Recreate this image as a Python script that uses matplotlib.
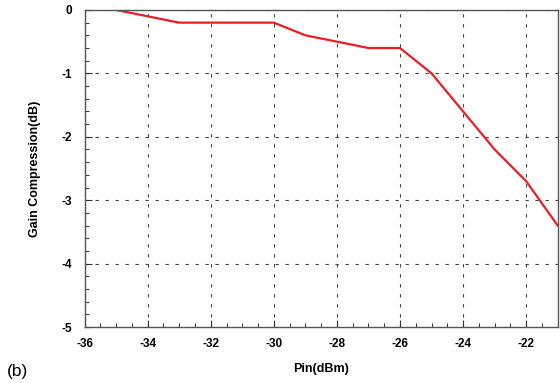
import matplotlib
matplotlib.use("Agg")
import matplotlib.pyplot as plt
from matplotlib.ticker import MultipleLocator

plt.rcParams["font.family"] = ["Liberation Sans", "DejaVu Sans"]

# Pin (dBm) vs gain compression (dB)
pin_dbm = [-35, -33, -32, -31, -30, -29, -28, -27, -26, -25, -24, -23, -22, -21]
gain_comp_db = [0.0, -0.2, -0.2, -0.2, -0.2, -0.4, -0.5, -0.6, -0.6, -1.0, -1.6, -2.2, -2.7, -3.4]

x_ticks = [-36, -34, -32, -30, -28, -26, -24, -22]
y_ticks = [0, -1, -2, -3, -4, -5]

fig = plt.figure(figsize=(5.6, 3.83), dpi=100)
ax = fig.add_axes([0.151, 0.146, 0.845, 0.828])

ax.plot(pin_dbm, gain_comp_db, color="#ee1c24", lw=1.6)

ax.set_xlim(-36, -21)
ax.set_ylim(-5, 0)
ax.set_xticks(x_ticks)
ax.set_yticks(y_ticks)
ax.set_xticklabels([str(v) for v in x_ticks], fontweight="bold", fontsize=8.5)
ax.set_yticklabels([str(v) for v in y_ticks], fontweight="bold", fontsize=8.5)
ax.xaxis.set_minor_locator(MultipleLocator(0.5))
ax.yaxis.set_minor_locator(MultipleLocator(0.2))
ax.tick_params(which="both", direction="in", top=False, right=False, color="#333333")
ax.tick_params(which="major", length=5, width=0.8)
ax.tick_params(axis="x", which="major", pad=8)
ax.tick_params(axis="y", which="major", pad=9)
ax.tick_params(which="minor", length=3, width=0.7)

ax.grid(True, which="major", color="#444444", linestyle=(0, (3, 6)), lw=0.8)

for s in ax.spines.values():
    s.set_color("#555555")
    s.set_linewidth(1.0)

ax.set_xlabel("Pin(dBm)", fontweight="bold", fontsize=9, labelpad=9)
ax.set_ylabel("Gain Compression(dB)", fontweight="bold", fontsize=9, labelpad=15)
fig.text(0.012, 0.018, "(b)", fontsize=12.5)

fig.savefig("out.png", dpi=100)
